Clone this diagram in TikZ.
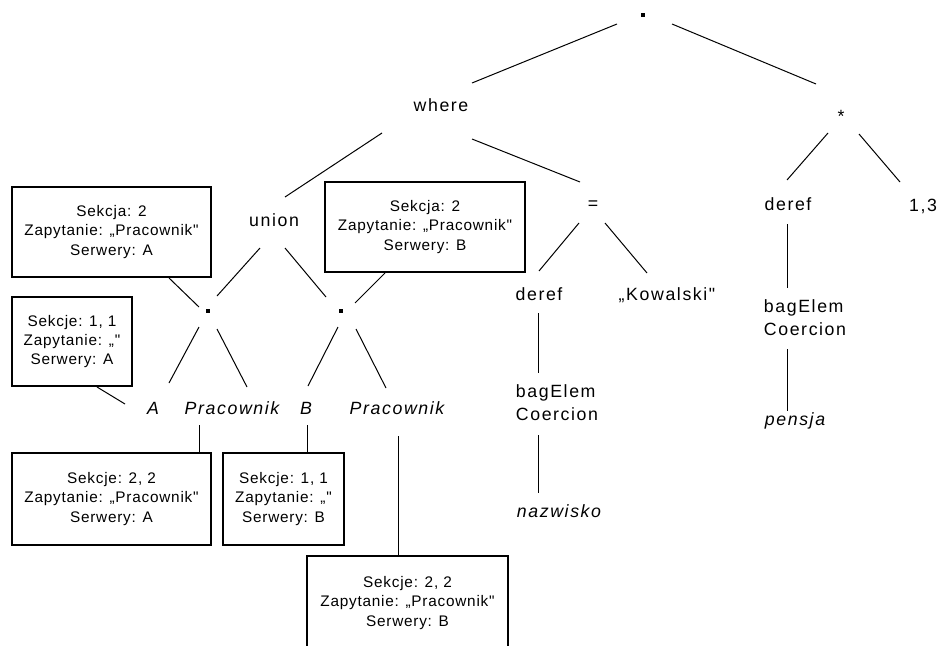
\documentclass[tikz,border=0pt]{standalone}
\usepackage{fontspec}
\setmainfont{Liberation Sans}
\newfontfamily\treefont[LetterSpace=9]{Liberation Sans}
\newfontfamily\boxfont[LetterSpace=5]{Liberation Sans}
\usetikzlibrary{calc}
\begin{document}
\begin{tikzpicture}[x=0.75pt,y=-0.75pt,
  lbl/.style={font=\treefont\fontsize{13.3pt}{17.25pt}\selectfont, inner sep=0pt,
              text height=9.6pt, text depth=2.6pt},
  ilbl/.style={lbl, font=\treefont\fontsize{13.3pt}{17.25pt}\selectfont\itshape},
  twoline/.style={font=\treefont\fontsize{13.3pt}{17.25pt}\selectfont, inner sep=0pt, align=left},
  dotmark/.style={fill, inner sep=0pt, minimum size=3pt},
  infobox/.style={draw, line width=0.9pt, inner sep=0pt, align=center,
                  font=\boxfont\fontsize{11.5pt}{14.5pt}\selectfont},
  branch/.style={line width=0.75pt}]
\useasboundingbox (0,0) rectangle (939,646);

% operator nodes of the query tree
\node[dotmark] (top)   at (643,15)  {};
\node[lbl]     (where) at (441,107) {where};
\node[lbl]     (star)  at (841,118) {*};
\node[lbl]     (union) at (274,222) {union};
\node[lbl]     (eq)    at (593,205) {=};
\node[dotmark] (dotA)  at (208,311) {};
\node[dotmark] (dotB)  at (341,311) {};

% leaves under union
\node[ilbl] (la)  at (153,410) {A};
\node[ilbl] (lpa) at (232,410) {Pracownik};
\node[ilbl] (lb)  at (306,410) {B};
\node[ilbl] (lpb) at (397,410) {Pracownik};

% comparison branch
\node[lbl]     (derefL) at (539,296) {deref};
\node[lbl]     (kow)    at (667,296) {„Kowalski"};
\node[twoline] (bagL)   at (557,403) {bagElem\\Coercion};
\node[ilbl]    (nazw)   at (559,513) {nazwisko};

% multiplication branch
\node[lbl]     (derefR) at (788,206) {deref};
\node[lbl]     (num)    at (923,207) {1,3};
\node[twoline] (bagR)   at (805,318) {bagElem\\Coercion};
\node[ilbl]    (pens)   at (795,421) {pensja};

% annotation boxes
\node[infobox, minimum width=149.25pt, minimum height=67.5pt] (box1) at (111.5,232)
  {Sekcja: 2\\Zapytanie: „Pracownik"\\Serwery: A};
\node[infobox, minimum width=90pt, minimum height=66.75pt] (box2) at (72,341.5)
  {Sekcje: 1, 1\\Zapytanie: „"\\Serwery: A};
\node[infobox, minimum width=150pt, minimum height=67.5pt] (box3) at (425,227)
  {Sekcja: 2\\Zapytanie: „Pracownik"\\Serwery: B};
\node[infobox, minimum width=149.25pt, minimum height=69pt] (box4) at (111.5,499)
  {Sekcje: 2, 2\\Zapytanie: „Pracownik"\\Serwery: A};
\node[infobox, minimum width=90.75pt, minimum height=69pt] (box5) at (283.5,499)
  {Sekcje: 1, 1\\Zapytanie: „"\\Serwery: B};
\node[infobox, minimum width=150.75pt, minimum height=70.5pt] (box6) at (407.5,603)
  {Sekcje: 2, 2\\Zapytanie: „Pracownik"\\Serwery: B};

% tree branches
\draw[branch] ($(top)+(-26,9)$)    -- ($(where)+(31,-24)$);
\draw[branch] ($(top)+(29,9)$)     -- ($(star)+(-25,-34)$);
\draw[branch] ($(where)+(-59,26)$) -- ($(union)+(11,-25)$);
\draw[branch] ($(where)+(31,32)$)  -- ($(eq)+(-13,-23)$);
\draw[branch] ($(star)+(-13,15)$)  -- ($(derefR)+(-1,-26)$);
\draw[branch] ($(star)+(18,16)$)   -- ($(num)+(-23,-25)$);
\draw[branch] ($(eq)+(-14,18)$)    -- ($(derefL)+(0,-25)$);
\draw[branch] ($(eq)+(12,18)$)     -- ($(kow)+(-20,-23)$);
\draw[branch] ($(union)+(-14,26)$) -- ($(dotA)+(9,-15)$);
\draw[branch] ($(union)+(11,26)$)  -- ($(dotB)+(-15,-14)$);
\draw[branch] ($(dotA)+(-9,16)$)   -- ($(la)+(16,-27)$);
\draw[branch] ($(dotA)+(9,18)$)    -- ($(lpa)+(15,-23)$);
\draw[branch] ($(dotB)+(-3,16)$)   -- ($(lb)+(2,-24)$);
\draw[branch] ($(dotB)+(15,18)$)   -- ($(lpb)+(-11,-22)$);
\draw[branch] ($(derefL)+(-1,17)$) -- ($(bagL)+(-19,-30)$);
\draw[branch] ($(bagL)+(-19,32)$)  -- ($(nazw)+(-21,-20)$);
\draw[branch] ($(derefR)+(-1,18)$) -- ($(bagR)+(-18,-30)$);
\draw[branch] ($(bagR)+(-18,31)$)  -- ($(pens)+(-8,-10)$);

% links from the annotation boxes
\draw[branch] ($(box1)+(57.5,46)$)  -- ($(dotA)+(-9,-4)$);
\draw[branch] ($(box2)+(25,45.5)$)  -- ($(la)+(-28,-6)$);
\draw[branch] ($(box3)+(-40,46)$)   -- ($(dotB)+(14,-8)$);
\draw[branch] ($(lpa)+(-33,15)$)    -- ($(box4)+(87.5,-46)$);
\draw[branch] ($(lb)+(1,15)$)       -- ($(box5)+(23.5,-46)$);
\draw[branch] ($(lpb)+(1,26)$)      -- ($(box6)+(-9.5,-47)$);
\end{tikzpicture}
\end{document}
